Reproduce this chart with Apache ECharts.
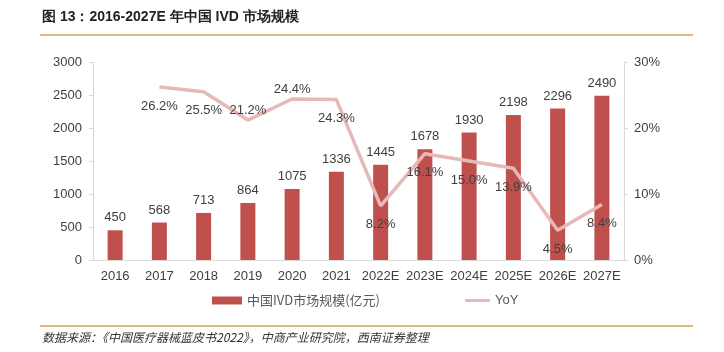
<!DOCTYPE html>
<html>
<head>
<meta charset="utf-8">
<script src="https://cdn.jsdelivr.net/npm/echarts@6/dist/echarts.min.js"></script>
<style>
html, body { margin: 0; padding: 0; background: #fff; }
#main { width: 724px; height: 352px; }
</style>
</head>
<body>
<div id="main"></div>
<script>
// 数据
const years = ['2016', '2017', '2018', '2019', '2020', '2021', '2022E', '2023E', '2024E', '2025E', '2026E', '2027E'];
const marketSize = [450, 568, 713, 864, 1075, 1336, 1445, 1678, 1930, 2198, 2296, 2490];
const yoy = [null, 26.2, 25.5, 21.2, 24.4, 24.3, 8.2, 16.1, 15.0, 13.9, 4.5, 8.4];
const yoyLabelPos = ['bottom', 'bottom', 'bottom', 'top', 'top', 'bottom', 'bottom', 'bottom', 'bottom', 'bottom', 'bottom', 'bottom'];

const fontFamily = '"Liberation Sans", Arial, sans-serif';
const textColor = '#404040';
const lineColor = '#e6b9b8';

const myChart = echarts.init(document.getElementById('main'));

const yoyData = yoy.map(function (v, i) {
	if (v === null) return '-';
	return {
		value: v,
		label: { position: yoyLabelPos[i], distance: yoyLabelPos[i] === 'top' ? 3 : 12 }
	};
});

const option = {
	animation: false,
	textStyle: { fontFamily: fontFamily },
	graphic: [
		{
			type: 'text', left: 42, top: 10,
			style: { text: '图 13：2016-2027E 年中国 IVD 市场规模', font: 'bold 14px ' + fontFamily, fill: '#222' }
		},
		{
			type: 'line', shape: { x1: 40, y1: 35, x2: 693, y2: 35 },
			style: { stroke: '#d4a05a', lineWidth: 1.5 }
		},
		{
			type: 'line', shape: { x1: 40, y1: 326, x2: 693, y2: 326 },
			style: { stroke: '#d4a05a', lineWidth: 1.5 }
		},
		{
			type: 'text', left: 42, top: 331,
			style: { text: '数据来源：《中国医疗器械蓝皮书2022》，中商产业研究院，西南证券整理', font: 'italic 12px "Noto Sans CJK SC", ' + fontFamily, fill: '#333' }
		}
	],
	grid: { left: 93, right: 100, top: 62, bottom: 92 },
	legend: [
		{
			bottom: 40,
			left: 207,
			itemWidth: 30,
			itemHeight: 8,
			textStyle: { fontSize: 13, color: '#595959', fontFamily: '"Noto Sans CJK SC", ' + fontFamily },
			data: [{ name: '中国IVD市场规模(亿元)', icon: 'rect' }]
		},
		{
			bottom: 40,
			left: 460,
			itemWidth: 25,
			itemHeight: 3,
			itemGap: 3,
			textStyle: { fontSize: 13, color: '#595959', fontFamily: fontFamily },
			data: [{ name: 'YoY', icon: 'roundRect', itemStyle: { color: lineColor, opacity: 1 } }]
		}
	],
	xAxis: {
		type: 'category',
		data: years,
		axisLine: { lineStyle: { color: '#d9d9d9' } },
		axisTick: { show: false },
		axisLabel: { color: textColor, fontSize: 13, margin: 10, interval: 0 }
	},
	yAxis: [
		{
			type: 'value',
			min: 0, max: 3000, interval: 500,
			axisLine: { show: true, lineStyle: { color: '#d9d9d9' } },
			axisTick: { show: true, length: 4, lineStyle: { color: '#d9d9d9' } },
			splitLine: { show: false },
			axisLabel: { color: textColor, fontSize: 13, margin: 11, formatter: function (v) { return String(v); } }
		},
		{
			type: 'value',
			min: 0, max: 30, interval: 10,
			axisLine: { show: true, lineStyle: { color: '#d9d9d9' } },
			axisTick: { show: true, length: 4, lineStyle: { color: '#d9d9d9' } },
			splitLine: { show: false },
			axisLabel: { color: textColor, fontSize: 13, margin: 10, formatter: '{value}%' }
		}
	],
	series: [
		{
			name: '中国IVD市场规模(亿元)',
			type: 'bar',
			data: marketSize,
			barWidth: 15,
			itemStyle: { color: '#c0504d' },
			label: { show: true, position: 'top', distance: 6, color: textColor, fontSize: 13 }
		},
		{
			name: 'YoY',
			type: 'line',
			yAxisIndex: 1,
			data: yoyData,
			showSymbol: true,
			symbol: 'circle',
			symbolSize: 1,
			lineStyle: { color: lineColor, width: 3.5 },
			itemStyle: { color: 'rgba(0,0,0,0)' },
			label: {
				show: true, color: textColor, fontSize: 13,
				formatter: function (p) { return p.value.toFixed(1) + '%'; }
			}
		}
	]
};
myChart.setOption(option);
</script>
</body>
</html>
